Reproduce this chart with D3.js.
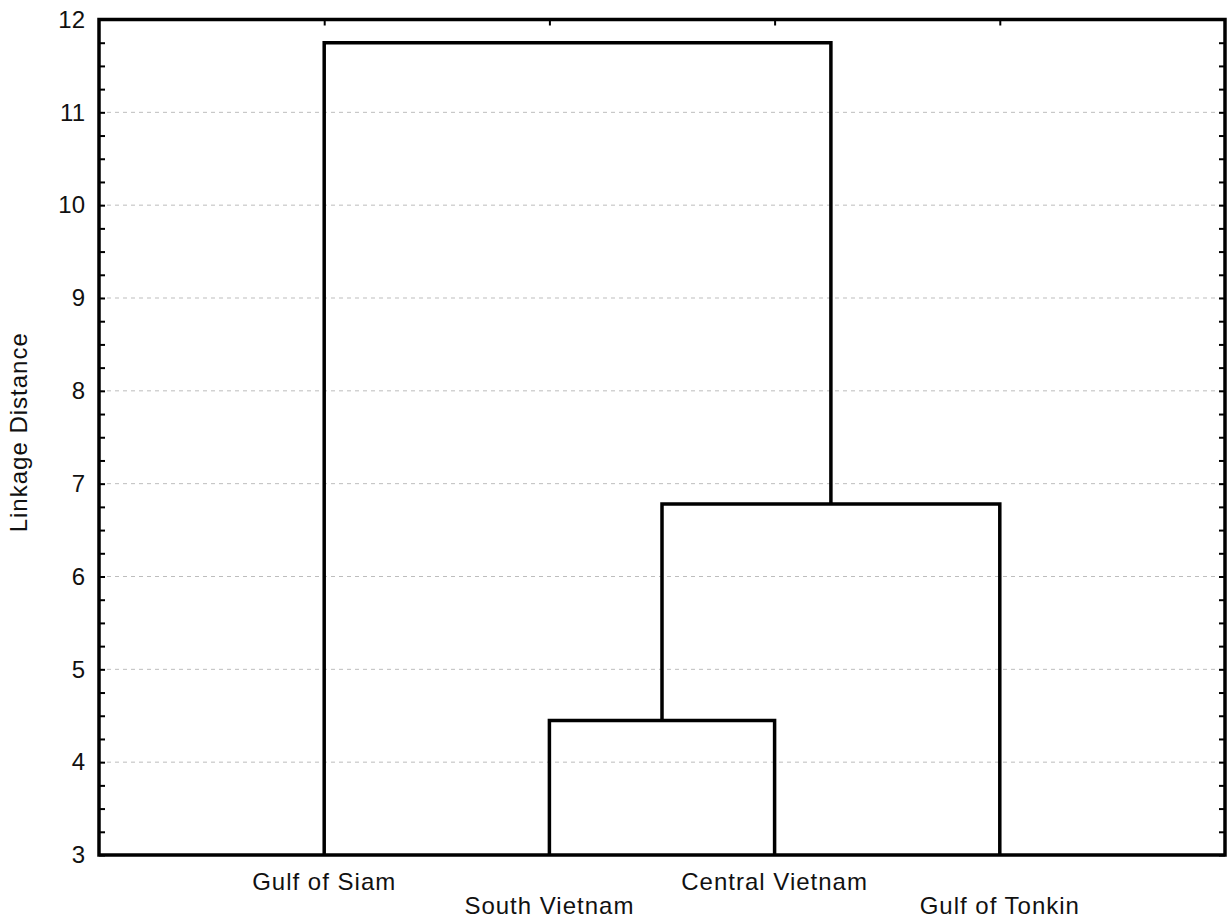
<!DOCTYPE html>
<html>
<head>
<meta charset="utf-8">
<script src="https://cdn.jsdelivr.net/npm/d3@7"></script>
<style>
  body { margin: 0; background: #fff; }
  text { font-family: "Liberation Sans", Arial, sans-serif; fill: #111; }
</style>
</head>
<body>
<svg id="chart"></svg>
<script>
// leaves in dendrogram order
const leaves = ['Gulf of Siam', 'South Vietnam', 'Central Vietnam', 'Gulf of Tonkin'];

// merges: [left member, right member, linkage distance]
const mergeLeft = ['South Vietnam', 'C1', 'Gulf of Siam'];
const mergeRight = ['Central Vietnam', 'Gulf of Tonkin', 'C2'];
const mergeHeight = [4.45, 6.78, 11.75];
const mergeIds = ['C1', 'C2', 'C3'];

const yDomain = [3, 12];
const gridValues = [4, 5, 6, 7, 8, 9, 10, 11];

const W = 1231, H = 924;
const box = { x1: 99, y1: 19.5, x2: 1225, y2: 855 };

const svg = d3.select('#chart').attr('width', W).attr('height', H);

const x = d3.scalePoint().domain(leaves).range([box.x1, box.x2]).padding(1);
const y = d3.scaleLinear().domain(yDomain).range([box.y2, box.y1]);

// gridlines
svg.append('g')
  .selectAll('line')
  .data(gridValues)
  .join('line')
  .attr('x1', box.x1).attr('x2', box.x2)
  .attr('y1', d => y(d)).attr('y2', d => y(d))
  .attr('stroke', '#bdbdbd')
  .attr('stroke-width', 1)
  .attr('stroke-dasharray', '4,4');

// resolve node positions
const pos = {};
leaves.forEach(l => { pos[l] = { x: x(l), h: yDomain[0] }; });

const links = svg.append('g')
  .attr('fill', 'none')
  .attr('stroke', '#000')
  .attr('stroke-width', 3.5)
  .attr('stroke-linejoin', 'miter');

mergeIds.forEach((id, i) => {
  const a = pos[mergeLeft[i]], b = pos[mergeRight[i]];
  const h = mergeHeight[i];
  links.append('path')
    .attr('d', `M${a.x},${y(a.h)}V${y(h)}H${b.x}V${y(b.h)}`);
  pos[id] = { x: (a.x + b.x) / 2, h: h };
});

// ticks
const minor = d3.range(yDomain[0], yDomain[1] + 0.001, 0.25);
const fmt = d => Number.isInteger(d) ? d : '';

const axLeft = svg.append('g')
  .attr('transform', `translate(${box.x1},0)`)
  .call(d3.axisLeft(y).tickValues(minor).tickSize(-6).tickPadding(14).tickFormat(fmt));
const axRight = svg.append('g')
  .attr('transform', `translate(${box.x2},0)`)
  .call(d3.axisRight(y).tickValues(minor).tickSize(-6).tickFormat(''));
const axTop = svg.append('g')
  .attr('transform', `translate(0,${box.y1})`)
  .call(d3.axisTop(x).tickSize(-6).tickFormat(''));

[axLeft, axRight, axTop].forEach(g => {
  g.select('.domain').remove();
  g.selectAll('.tick line').attr('stroke', '#000').attr('stroke-width', 2);
});
axLeft.selectAll('.tick text')
  .style('font-size', '24px')
  .style('font-family', '"Liberation Sans", Arial, sans-serif')
  .attr('fill', '#111');

// frame
svg.append('rect')
  .attr('x', box.x1).attr('y', box.y1)
  .attr('width', box.x2 - box.x1).attr('height', box.y2 - box.y1)
  .attr('fill', 'none')
  .attr('stroke', '#000')
  .attr('stroke-width', 3.5);

// leaf labels, staggered
svg.append('g')
  .selectAll('text')
  .data(leaves)
  .join('text')
  .attr('x', d => x(d))
  .attr('y', (d, i) => i % 2 === 0 ? 890 : 914)
  .attr('text-anchor', 'middle')
  .style('font-size', '24px')
  .style('letter-spacing', '1px')
  .text(d => d);

// y axis title
svg.append('text')
  .attr('transform', `translate(27,${(box.y1 + box.y2) / 2 - 5}) rotate(-90)`)
  .attr('text-anchor', 'middle')
  .style('font-size', '24px')
  .style('letter-spacing', '1px')
  .text('Linkage Distance');
</script>
</body>
</html>
